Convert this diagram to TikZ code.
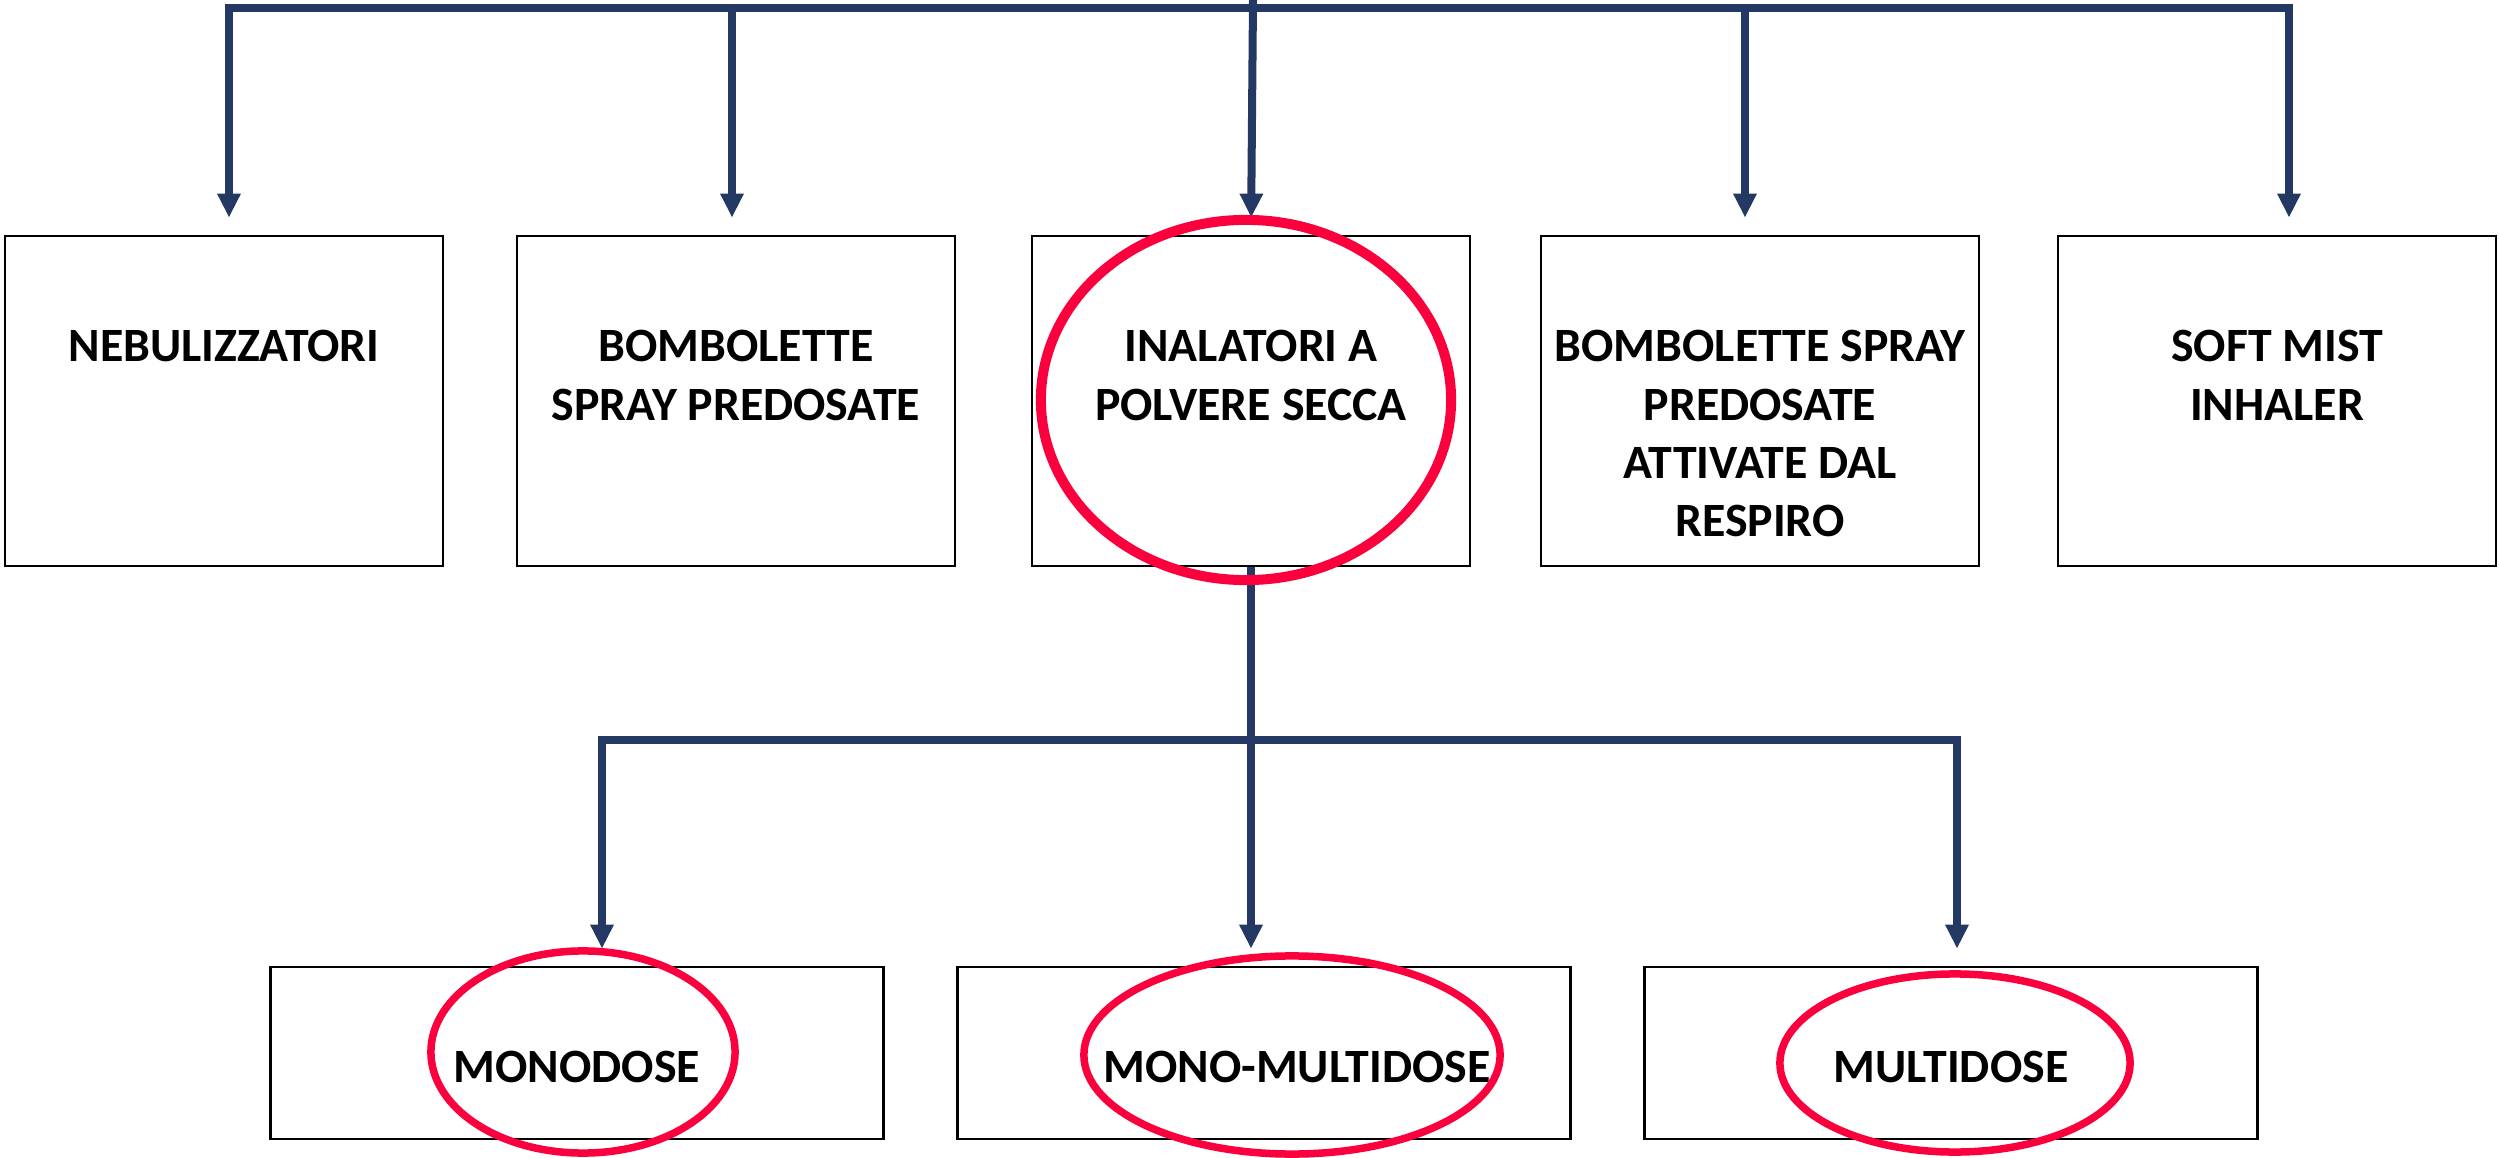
\documentclass[tikz,border=0pt]{standalone}
\usepackage{fontspec}
\setmainfont{Carlito}
\usetikzlibrary{arrows.meta, positioning}
\definecolor{linkblue}{RGB}{35,57,100}
\definecolor{ringred}{RGB}{250,0,60}

\begin{document}
\begin{tikzpicture}[x=0.01cm, y=-0.01cm,
  box/.style={draw=black, line width=0.025cm, minimum width=4.38cm, minimum height=3.30cm, inner sep=0pt},
  smallbox/.style={draw=black, line width=0.025cm, minimum width=6.13cm, minimum height=1.72cm, inner sep=0pt},
  lbl/.style={inner sep=0pt, align=center, font=\fontsize{13.6}{16.6}\selectfont\bfseries},
  link/.style={draw=linkblue, line width=0.08cm},
  arrow/.style={link, -{Triangle[length=0.24cm, width=0.22cm]}, shorten >=0.17cm},
  ring/.style={draw=ringred, line width=0.1cm}]
\useasboundingbox (0,0) rectangle (2499,1158);
% first level
\node[box] (b1) at (224,401) {};
\node[box] (b2) at (736,401) {};
\node[box] (b3) at (1251,401) {};
\node[box] (b4) at (1760,401) {};
\node[box] (b5) at (2277,401) {};
\node[lbl, below=0.95cm of b1.north] (t1) {NEBULIZZATORI};
\node[lbl, below=0.95cm of b2.north] (t2) {BOMBOLETTE\\SPRAY PREDOSATE};
\node[lbl, below=0.95cm of b3.north] (t3) {INALATORI A\\POLVERE SECCA};
\node[lbl, below=0.95cm of b4.north] (t4) {BOMBOLETTE SPRAY\\PREDOSATE\\ATTIVATE DAL\\RESPIRO};
\node[lbl, below=0.95cm of b5.north] (t5) {SOFT MIST\\INHALER};
% second level
\node[smallbox] (m1) at (577,1053) {};
\node[smallbox] (m2) at (1264,1053) {};
\node[smallbox] (m3) at (1951,1053) {};
\node[lbl, below=0.85cm of m1.north] (u1) {MONODOSE};
\node[lbl, below=0.85cm of m2.north, xshift=0.33cm] (u2) {MONO-MULTIDOSE};
\node[lbl, below=0.85cm of m3.north] (u3) {MULTIDOSE};
% connectors
\coordinate (src) at (1253,0);
\coordinate (bus) at (1253,8);
\draw[link] (src) -- (bus);
\draw[arrow] (bus) -| ([xshift=0.05cm]b1.north);
\draw[arrow] (bus) -| ([xshift=-0.04cm]b2.north);
\draw[arrow] (src) -- (b3.north);
\draw[arrow] (bus) -| ([xshift=-0.15cm]b4.north);
\draw[arrow] (bus) -| ([xshift=0.12cm]b5.north);
\coordinate (split) at (b3.south |- 0,740);
\draw[link] (b3.south) -- (split);
\draw[arrow] (split) -| ([xshift=0.25cm]m1.north);
\draw[arrow] (split) -- (split |- m2.north);
\draw[arrow] (split) -| ([xshift=0.06cm]m3.north);
% red rings
\draw[ring] (1246,400) ellipse [x radius=2.05cm, y radius=1.80cm];
\draw[ring, line width=0.075cm] (583,1052) ellipse [x radius=1.52cm, y radius=1.01cm];
\draw[ring, line width=0.075cm] (1292,1055) ellipse [x radius=2.08cm, y radius=0.99cm];
\draw[ring, line width=0.075cm] (1955,1063) ellipse [x radius=1.75cm, y radius=0.89cm];
\end{tikzpicture}
\end{document}
